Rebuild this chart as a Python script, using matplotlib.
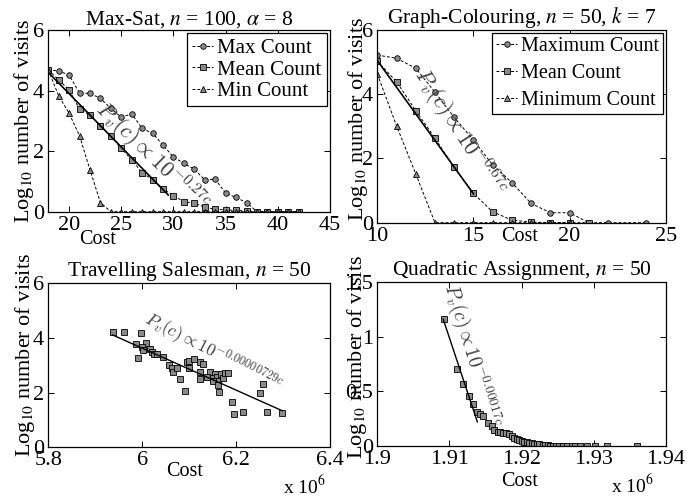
import numpy as np
import matplotlib
matplotlib.use("Agg")
import matplotlib.pyplot as plt
from matplotlib.ticker import FuncFormatter

plt.rcParams["font.family"] = ["Liberation Serif", "DejaVu Serif"]
plt.rcParams["mathtext.fontset"] = "stix"
plt.rcParams["xtick.direction"] = "in"
plt.rcParams["ytick.direction"] = "in"
plt.rcParams["xtick.top"] = True
plt.rcParams["ytick.right"] = True
plt.rcParams["axes.linewidth"] = 0.9

# ---- Max-Sat data ----
ms_max_x = np.arange(18, 43)
ms_max_y = [4.68, 4.65, 4.51, 3.91, 3.91, 3.74, 3.41, 3.12, 3.23, 2.75, 2.59, 2.20,
            1.80, 1.60, 1.40, 1.05, 1.07, 0.61, 0.47, 0.30, 0, 0, 0, 0, 0]
ms_mean_x = np.arange(18, 43)
ms_mean_y = [4.68, 4.35, 4.02, 3.38, 3.19, 2.83, 2.50, 2.09, 1.71, 1.29, 1.05, 0.75,
             0.53, 0.33, 0.28, 0.15, 0.08, 0.06, 0.04, 0.03, 0, 0, 0, 0, 0]
ms_min_x = np.arange(18, 43)
ms_min_y = [4.68, 3.82, 3.25, 2.50, 1.38, 0.30] + [0] * 19
ms_fit_x = [18, 29.5]
ms_fit_y = [4.6, 0.55]

# ---- Graph-Colouring data ----
gc_max_x = [10, 11, 12, 13, 14, 15, 16, 17, 18, 19, 20, 21, 22, 24]
gc_max_y = [5.22, 5.12, 4.81, 4.06, 3.28, 2.57, 1.80, 1.25, 0.60, 0.31, 0.31, 0, 0, 0]
gc_mean_x = np.arange(10, 22)
gc_mean_y = [5.03, 4.39, 3.49, 2.63, 1.72, 0.91, 0.34, 0.08, 0.02, 0, 0, 0]
gc_min_x = np.arange(10, 21)
gc_min_y = [4.63, 3.02, 1.52, 0, 0, 0, 0, 0, 0, 0, 0]
gc_fit_x = [10, 15]
gc_fit_y = [5.05, 0.9]

# ---- Travelling Salesman data ----
ts_cost = [5.937, 5.961, 5.997, 5.987, 6.009, 5.999, 6.002, 6.017, 6.020, 6.026,
           6.032, 6.044, 5.992, 6.058, 6.063, 6.066, 6.075, 6.080, 6.092, 6.096,
           6.100, 6.100, 6.111, 6.123, 6.130, 6.123, 6.124, 6.144, 6.139, 6.155,
           6.150, 6.159, 6.162, 6.151, 6.167, 6.173, 6.176, 6.182, 6.162, 6.164,
           6.192, 6.196, 6.214, 6.258, 6.252, 6.265, 6.298]
ts_visits = [4.23, 4.21, 4.19, 3.78, 3.81, 3.66, 3.56, 3.59, 3.48, 3.40,
             3.40, 3.32, 3.26, 3.01, 2.89, 2.74, 2.89, 2.50, 2.07, 3.11,
             3.17, 2.89, 3.22, 3.13, 3.05, 2.77, 2.49, 2.74, 2.58, 2.68,
             2.55, 2.58, 2.43, 2.44, 2.67, 2.52, 2.73, 2.73, 2.28, 2.04,
             1.67, 1.22, 1.29, 2.32, 1.98, 1.29, 1.24]
ts_cost = np.array(ts_cost) * 1e6
ts_fit_x = [5.937e6, 6.298e6]
ts_fit_y = [4.11, 1.34]

# ---- Quadratic Assignment data ----
qa_cost = [1909273, 1911113, 1911944, 1912733, 1913328, 1913799, 1914255, 1914712,
           1915404, 1915875, 1916235, 1916705, 1917024, 1917397, 1917854, 1918311,
           1918643, 1919003, 1919335, 1919695, 1920027, 1920387, 1920719, 1921079,
           1921411, 1921771, 1922103, 1922463, 1922933, 1923251, 1923625, 1923943,
           1924400, 1924774, 1925230, 1925784, 1926254, 1926946, 1927403, 1928095,
           1929022, 1930171, 1931790, 1936000]
qa_visits = [1.16, 0.70, 0.57, 0.46, 0.38, 0.31, 0.29, 0.27,
             0.21, 0.18, 0.15, 0.13, 0.125, 0.12, 0.115, 0.11,
             0.09, 0.075, 0.06, 0.055, 0.045, 0.04, 0.034, 0.03,
             0.025, 0.02, 0.018, 0.015, 0.01, 0.008, 0.005, 0.004,
             0.003, 0.002, 0.002, 0.001, 0.001, 0.0005, 0.0005, 0,
             0, 0, 0, 0]
qa_fit_x = [1909140, 1913880]
qa_fit_y = [1.16, 0.22]

grey = "#8a8a8a"
mk = dict(markerfacecolor=grey, markeredgecolor="black", markeredgewidth=0.6, markersize=4)
dash = dict(color="black", linestyle="--", dashes=(3, 2), linewidth=0.7)
ann_style = dict(color="#404040", ha="center", va="center",
                 rotation_mode="anchor", math_fontfamily="cm")
ylab = "Log$_{10}$ number of visits"
title_fs = 15.5
label_fs = 16
leg_style = dict(loc="upper right", fancybox=False, edgecolor="black",
                 framealpha=1, handlelength=1.0, handletextpad=0.2,
                 borderaxespad=0.15)

fig = plt.figure(figsize=(6.87, 5.0), dpi=100)
ax1 = fig.add_axes([0.0703, 0.5766, 0.4100, 0.3634])
ax2 = fig.add_axes([0.5492, 0.5546, 0.4198, 0.3854])
ax3 = fig.add_axes([0.0703, 0.1054, 0.4100, 0.3280])
ax4 = fig.add_axes([0.5492, 0.1080, 0.4198, 0.3280])

for ax in (ax1, ax2, ax3, ax4):
    ax.tick_params(labelsize=16, length=4, width=0.7, pad=3)

# Max-Sat
ax1.plot(ms_max_x, ms_max_y, marker="o", label="Max Count", **mk, **dash)
ax1.plot(ms_mean_x, ms_mean_y, marker="s", label="Mean Count", **mk, **dash)
ax1.plot(ms_min_x, ms_min_y, marker="^", label="Min Count", **mk, **dash)
ax1.plot(ms_fit_x, ms_fit_y, color="black", linewidth=1.2)
ax1.text(27.9, 1.8, r"$P_v(c) \propto 10^{-0.27c}$", rotation=-44, fontsize=16,
         **ann_style)
ax1.set_xlim(18, 45)
ax1.set_ylim(0, 6)
ax1.set_xticks([20, 25, 30, 35, 40, 45])
ax1.set_yticks([0, 2, 4, 6])
ax1.set_title(r"Max-Sat, $n$ = 100, $\alpha$ = 8", fontsize=title_fs, pad=3)
ax1.set_xlabel("Cost", fontsize=14.5)
ax1.xaxis.set_label_coords(0.176, -0.10)
ax1.set_ylabel(ylab, fontsize=label_fs)
ax1.yaxis.set_label_coords(-0.044, 0.5)
ax1.legend(fontsize=15, labelspacing=0.1, borderpad=0.25,
           **leg_style).get_frame().set_linewidth(0.9)

# Graph-Colouring
ax2.plot(gc_max_x, gc_max_y, marker="o", label="Maximum Count", **mk, **dash)
ax2.plot(gc_mean_x, gc_mean_y, marker="s", label="Mean Count", **mk, **dash)
ax2.plot(gc_min_x, gc_min_y, marker="^", label="Minimum Count", **mk, **dash)
ax2.plot(gc_fit_x, gc_fit_y, color="black", linewidth=1.2)
ax2.text(14.2, 2.8, r"$P_v(c) \propto 10^{-0.67c}$", rotation=-57, fontsize=16,
         **ann_style)
ax2.set_xlim(10, 25)
ax2.set_ylim(0, 6)
ax2.set_xticks([10, 15, 20, 25])
ax2.set_yticks([0, 2, 4, 6])
ax2.set_title(r"Graph-Colouring, $n$ = 50, $k$ = 7", fontsize=title_fs, pad=3)
ax2.set_xlabel("Cost", fontsize=14.5)
ax2.xaxis.set_label_coords(0.495, -0.021)
ax2.set_ylabel(ylab, fontsize=label_fs)
ax2.yaxis.set_label_coords(-0.025, 0.54)
ax2.legend(fontsize=14.5, labelspacing=0.4, borderpad=0.2,
           **leg_style).get_frame().set_linewidth(0.9)

# Travelling Salesman
ax3.plot(ts_cost, ts_visits, linestyle="none", marker="s", **mk)
ax3.plot(ts_fit_x, ts_fit_y, color="black", linewidth=1.0)
ax3.text(6.15e6, 3.45, r"$P_v(c) \propto 10^{-0.00000729c}$", rotation=-27,
         fontsize=12.5, **ann_style)
ax3.set_xlim(5.8e6, 6.4e6)
ax3.set_ylim(0, 6)
ax3.set_xticks([5.8e6, 6.0e6, 6.2e6, 6.4e6])
ax3.xaxis.set_major_formatter(FuncFormatter(lambda v, p: f"{v / 1e6:g}"))
ax3.set_yticks([0, 2, 4, 6])
ax3.set_title(r"Travelling Salesman, $n$ = 50", fontsize=title_fs, pad=3)
ax3.set_xlabel("Cost", fontsize=14.5)
ax3.xaxis.set_label_coords(0.485, -0.088)
ax3.set_ylabel(ylab, fontsize=label_fs)
ax3.yaxis.set_label_coords(-0.04, 0.56)
ax3.text(0.908, -0.24, "x 10$^6$", transform=ax3.transAxes, fontsize=14,
         ha="center", va="center")

# Quadratic Assignment
ax4.plot(qa_cost, qa_visits, linestyle="none", marker="s", **mk)
ax4.plot(qa_fit_x, qa_fit_y, color="black", linewidth=1.0)
ax4.text(1913100, 0.83, r"$P_v(c) \propto 10^{-0.00017c}$", rotation=-73,
         fontsize=14, **ann_style)
ax4.set_xlim(1.9e6, 1.94e6)
ax4.set_ylim(0, 1.5)
ax4.set_xticks([1.90e6, 1.91e6, 1.92e6, 1.93e6, 1.94e6])
ax4.xaxis.set_major_formatter(FuncFormatter(lambda v, p: f"{v / 1e6:g}"))
ax4.set_yticks([0, 0.5, 1, 1.5])
ax4.yaxis.set_major_formatter(FuncFormatter(lambda v, p: f"{v:g}"))
ax4.set_title(r"Quadratic Assignment, $n$ = 50", fontsize=title_fs, pad=3)
ax4.set_xlabel("Cost", fontsize=14.5)
ax4.xaxis.set_label_coords(0.495, -0.159)
ax4.set_ylabel(ylab, fontsize=label_fs)
ax4.yaxis.set_label_coords(-0.028, 0.54)
ax4.text(0.883, -0.238, "x 10$^6$", transform=ax4.transAxes, fontsize=14,
         ha="center", va="center")

fig.savefig("out.png", dpi=100)
